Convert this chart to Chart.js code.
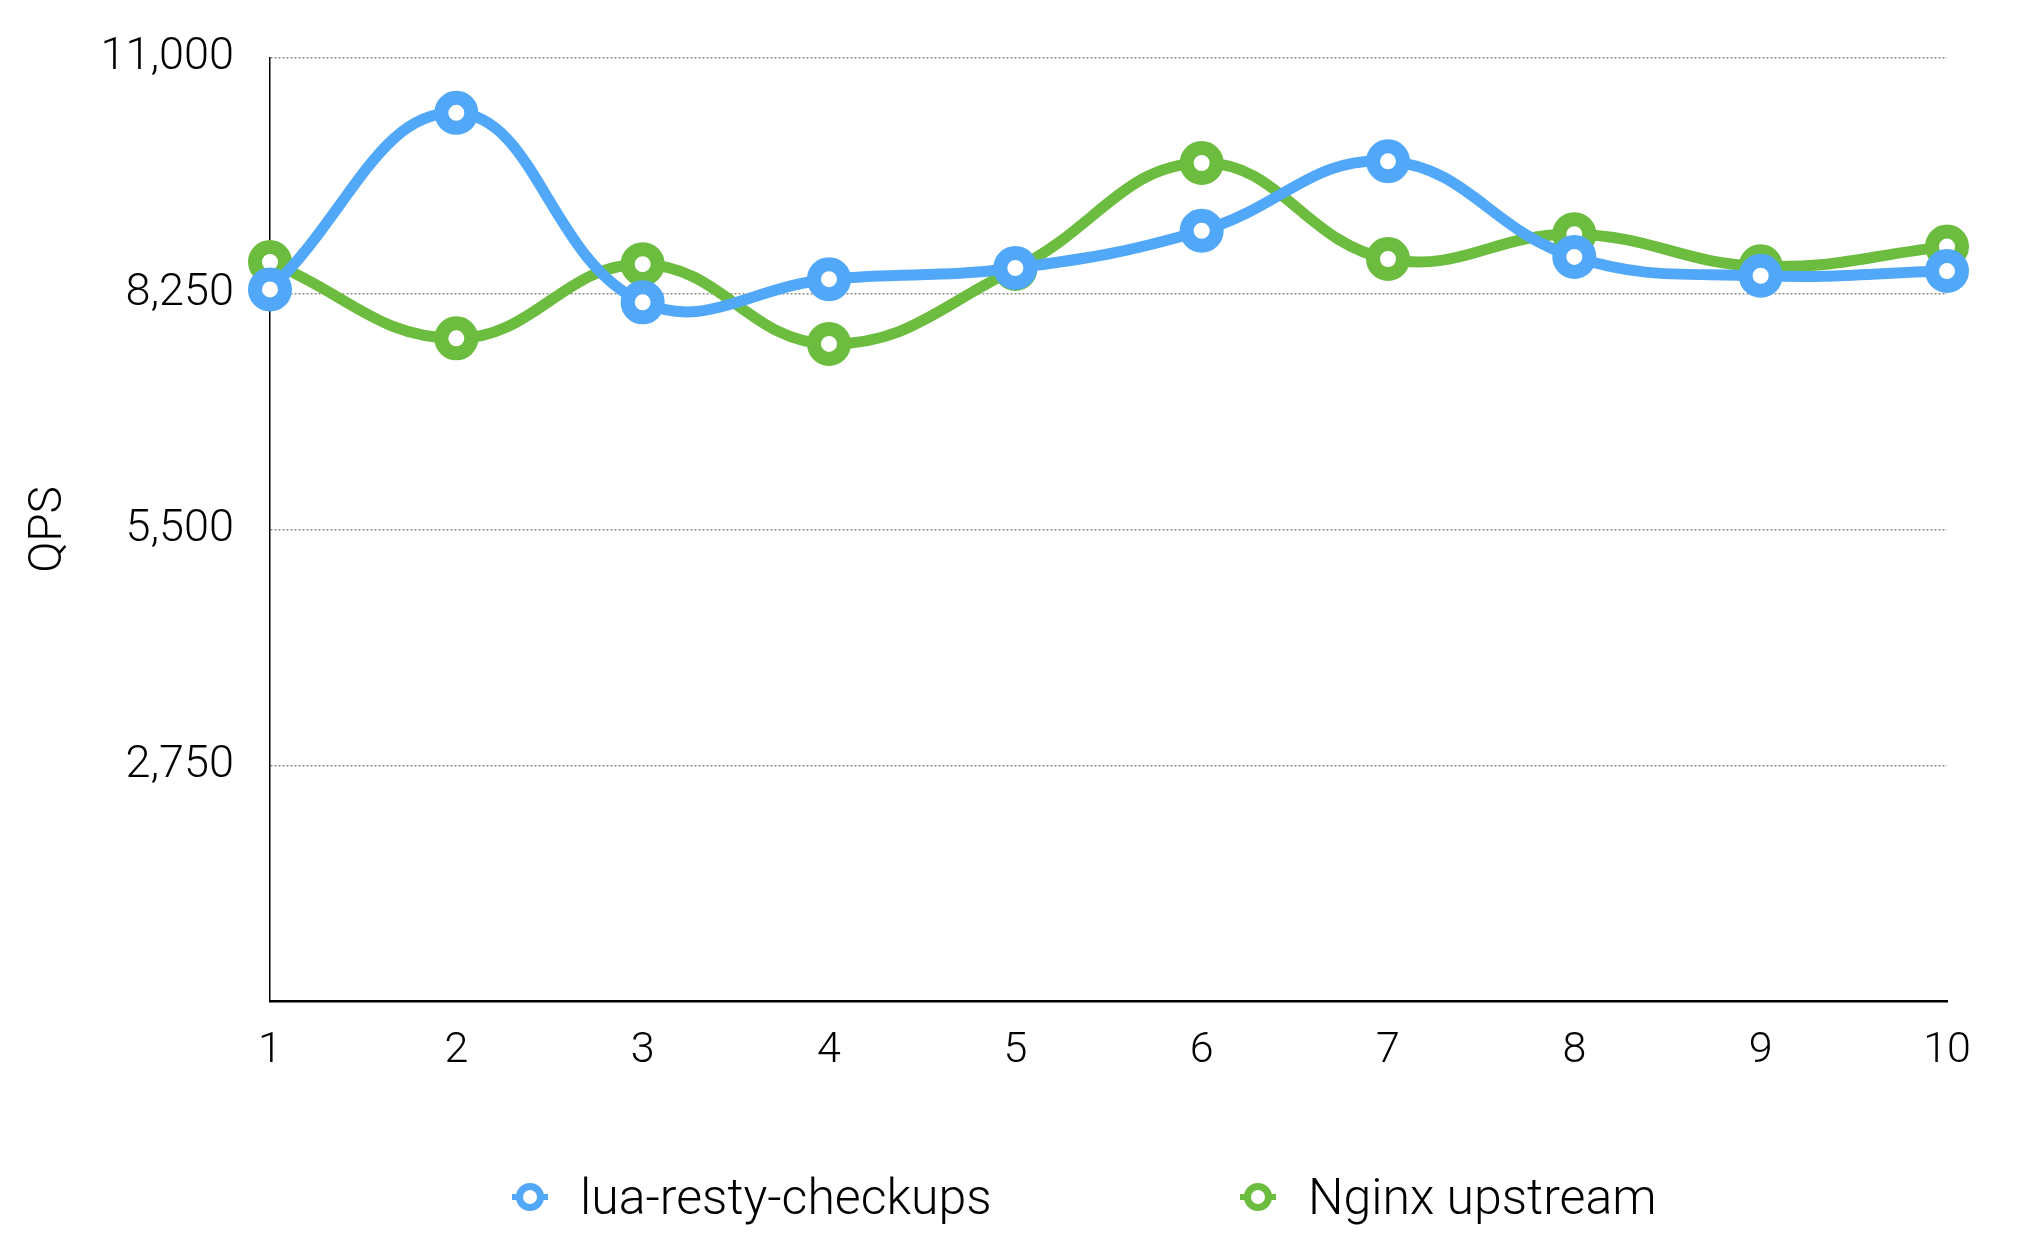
<!DOCTYPE html>
<html>
<head>
<meta charset="utf-8">
<script src="https://cdn.jsdelivr.net/npm/chart.js@4/dist/chart.umd.min.js"></script>
<style>
  body { margin: 0; background: #fff; }
  #wrap { position: relative; width: 2018px; height: 1248px; font-family: Roboto, "Liberation Sans", sans-serif; }
  #qps { position: absolute; left: 0; top: 0; }
  .item { position: absolute; top: 1168px; height: 58px; display: flex; align-items: center; font-size: 50px; font-weight: 300; color: #000; }
  .mark { position: relative; width: 36px; height: 28px; margin-right: 32px; }
  .mark .stub { position: absolute; left: 0; right: 0; top: 11px; height: 6px; }
  .mark .ring { position: absolute; left: 4px; top: 0; width: 14px; height: 14px; border: 7px solid; border-radius: 50%; background: #fff; }
</style>
</head>
<body>
<div id="wrap">
  <canvas id="qps" width="2018" height="1248"></canvas>
  <div id="legend"></div>
</div>
<script>
// QPS comparison, lua-resty-checkups vs nginx upstream

const runs = ["1", "2", "3", "4", "5", "6", "7", "8", "9", "10"];
const checkupsQps = [8300, 10360, 8150, 8420, 8550, 8985, 9795, 8680, 8460, 8515];
const upstreamQps = [8620, 7730, 8595, 7665, 8540, 9775, 8655, 8945, 8570, 8800];
const seriesNames = ["lua-resty-checkups", "Nginx upstream"];
const seriesColors = ["#51a7f8", "#6cbd3f"];
const yTicks = [0, 2750, 5500, 8250, 11000];

const font = "Roboto, 'Liberation Sans', sans-serif";

function lineSet(name, values, color) {
    return {
        label: name,
        data: values,
        borderColor: color,
        borderWidth: 11,
        tension: 0.42,
        pointRadius: 15,
        pointHoverRadius: 15,
        pointBorderWidth: 14,
        pointBorderColor: color,
        pointBackgroundColor: "#fff",
        fill: false
    };
}

// html legend, the chart.js one can't space items this far apart
function buildLegend() {
    const lefts = [512, 1240];
    const box = document.getElementById("legend");
    seriesNames.forEach((name, i) => {
        const item = document.createElement("div");
        item.className = "item";
        item.style.left = lefts[i] + "px";
        item.innerHTML = `<div class="mark"><div class="stub" style="background:${seriesColors[i]}"></div>` +
            `<div class="ring" style="border-color:${seriesColors[i]}"></div></div><span>${name}</span>`;
        box.appendChild(item);
    });
}

const config = {
    type: "line",
    data: {
        labels: runs,
        datasets: [
            lineSet(seriesNames[0], checkupsQps, seriesColors[0]),
            lineSet(seriesNames[1], upstreamQps, seriesColors[1])
        ]
    },
    options: {
        responsive: false,
        animation: false,
        layout: { padding: { top: 58, right: 71, bottom: 0, left: 0 } },
        plugins: {
            legend: { display: false },
            tooltip: { enabled: false }
        },
        scales: {
            x: {
                grid: { display: false, drawTicks: false },
                border: { color: "#000", width: 2.5 },
                ticks: { color: "#000", padding: 24, font: { family: font, size: 43, weight: 300 } },
                afterFit: s => { s.height = 247; }
            },
            y: {
                min: 0,
                max: 11000,
                afterBuildTicks: s => { s.ticks = yTicks.map(v => ({ value: v })); },
                grid: {
                    drawTicks: false,
                    lineWidth: 1.5,
                    color: c => c.tick && c.tick.value === 0 ? "rgba(0,0,0,0)" : "#8c8c8c"
                },
                border: { color: "#000", width: 1.5, dash: [2, 2] },
                ticks: {
                    color: "#000",
                    padding: 36,
                    // small lineHeight so the label padding doesn't push the plot top down
                    font: { family: font, size: 45, weight: 300, lineHeight: 0.5 },
                    callback: v => v === 0 ? "" : v.toLocaleString("en-US")
                },
                title: {
                    display: true,
                    text: "QPS",
                    color: "#000",
                    font: { family: font, size: 46, weight: 300 },
                    padding: { top: 22, bottom: 0 }
                },
                afterFit: s => { s.width = 270; }
            }
        }
    }
};

new Chart(document.getElementById("qps"), config);
buildLegend();
</script>
</body>
</html>
